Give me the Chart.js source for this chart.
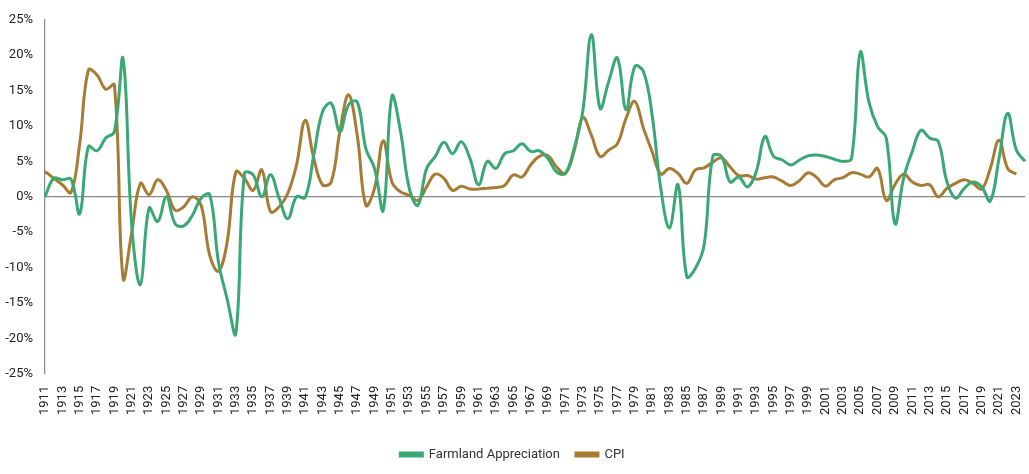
<!DOCTYPE html>
<html>
<head>
<meta charset="utf-8">
<script src="https://cdn.jsdelivr.net/npm/chart.js@4.4.1/dist/chart.umd.min.js"></script>
<style>
html,body{margin:0;padding:0;background:#fff;}
#wrap{width:1029px;height:474px;position:relative;}
</style>
</head>
<body>
<div id="wrap"><canvas id="c"></canvas></div>
<script>
const years = [];
for (let y = 1911; y <= 2024; y++) years.push(String(y));

const farmland = [
  0, 2.6, 2.4, 2.5, -2.4, 7.1, 6.5, 8.3, 9.2, 19.5,
  -4, -12.4, -1.6, -3.5, 0, -3.8, -4.1, -2.6, -0.2, 0.3,
  -9.2, -14.4, -19.3, 3.3, 3.1, 0, 3.1, -0.2, -3.1, 0,
  -0.1, 5.9, 12.0, 13.2, 9.2, 13.0, 13.4, 6.8, 4.0, -1.9,
  14.2, 9.2, 1.2, -1.2, 4.0, 5.7, 7.7, 6.1, 7.8, 5.4,
  1.7, 5.0, 4.0, 6.1, 6.5, 7.5, 6.4, 6.5, 5.4, 3.5,
  3.3, 6.8, 12.0, 22.9, 12.5, 16.3, 19.6, 12.3, 18.4, 17.7,
  11.6, 1.2, -4.4, 1.7, -11.3, -10.1, -6.8, 5.7, 5.7, 2.1,
  2.8, 1.4, 3.5, 8.5, 5.7, 5.2, 4.5, 5.2, 5.8, 5.9,
  5.7, 5.3, 5.0, 5.4, 20.4, 13.4, 9.9, 8.3, -3.8, 2.6,
  6.4, 9.4, 8.3, 7.8, 2.1, -0.2, 1.2, 2.1, 1.4, -0.6,
  5.4, 11.8, 6.6, 5.0
];

const cpi = [
  3.6, 2.6, 1.7, 0.6, 7.5, 17.9, 17.2, 15.2, 15.8, -11.5,
  -5.0, 1.9, 0.3, 2.4, 0.9, -1.9, -1.4, 0, -1.2, -8.3,
  -10.5, -6.4, 3.5, 2.6, 0.9, 3.8, -2.1, -1.4, 0.5, 4.5,
  10.8, 5.4, 1.7, 2.1, 9.2, 14.4, 8.7, -1.2, 1.2, 7.9,
  2.1, 0.7, 0.2, -0.5, 1.4, 3.2, 2.6, 0.9, 1.5, 1.1,
  1.1, 1.2, 1.3, 1.6, 3.1, 2.8, 4.5, 5.7, 5.8, 4.2,
  3.3, 6.4, 11.2, 8.7, 5.7, 6.6, 7.5, 11.1, 13.5, 9.7,
  6.4, 3.2, 4.0, 3.3, 1.9, 3.8, 4.1, 4.9, 5.5, 4.2,
  3.0, 3.0, 2.5, 2.7, 2.8, 2.2, 1.6, 2.3, 3.4, 2.7,
  1.5, 2.4, 2.7, 3.4, 3.2, 2.8, 4.0, -0.5, 1.7, 3.2,
  2.1, 1.6, 1.7, 0, 1.2, 1.9, 2.4, 1.9, 1.1, 4.0,
  8.0, 4.0, 3.2
];

const yTicks = [-25, -20, -15, -10, -5, 0, 5, 10, 15, 20, 25];

const GREEN = '#3aa874';
const BROWN = '#a67c34';

new Chart(document.getElementById('c'), {
  type: 'line',
  data: {
    labels: years,
    datasets: [
      { label: 'Farmland Appreciation', data: farmland, borderColor: GREEN, backgroundColor: GREEN,
        borderWidth: 3, pointRadius: 0, pointHoverRadius: 0, tension: 0.4, fill: false },
      { label: 'CPI', data: cpi, borderColor: BROWN, backgroundColor: BROWN,
        borderWidth: 3, pointRadius: 0, pointHoverRadius: 0, tension: 0.4, fill: false }
    ]
  },
  options: {
    responsive: true,
    maintainAspectRatio: false,
    animation: false,
    layout: { padding: { top: 10, right: 4, left: 0, bottom: 3 } },
    plugins: {
      legend: {
        position: 'bottom',
        labels: {
          boxWidth: 22, boxHeight: 3, padding: 16,
          color: '#333', font: { family: 'Roboto', size: 13 }
        }
      },
      tooltip: { enabled: false }
    },
    scales: {
      x: {
        offset: false,
        grid: { display: false },
        border: { display: false },
        afterFit: function (axis) { axis.paddingLeft = 0; axis.paddingRight = 0; axis.height += 13; },
        ticks: {
          autoSkip: false, maxRotation: 90, minRotation: 90,
          color: '#222', font: { family: 'Roboto', size: 13 }, padding: 4,
          callback: function (v, i) { const y = Number(years[i]); return (y % 2 === 1) ? years[i] : ''; }
        }
      },
      y: {
        min: -25, max: 25,
        afterBuildTicks: function (axis) { axis.ticks = yTicks.map(v => ({ value: v })); },
        afterFit: function (axis) { axis.width = 45; },
        grid: {
          drawTicks: false,
          color: function (ctx) { return ctx.tick && ctx.tick.value === 0 ? '#888' : 'rgba(0,0,0,0)'; },
          lineWidth: 1.2
        },
        border: { display: true, color: '#888', width: 1.2 },
        ticks: {
          color: '#222', font: { family: 'Roboto', size: 13 }, padding: 12,
          callback: function (v) { return v + '%'; }
        }
      }
    }
  }
});
</script>
</body>
</html>
